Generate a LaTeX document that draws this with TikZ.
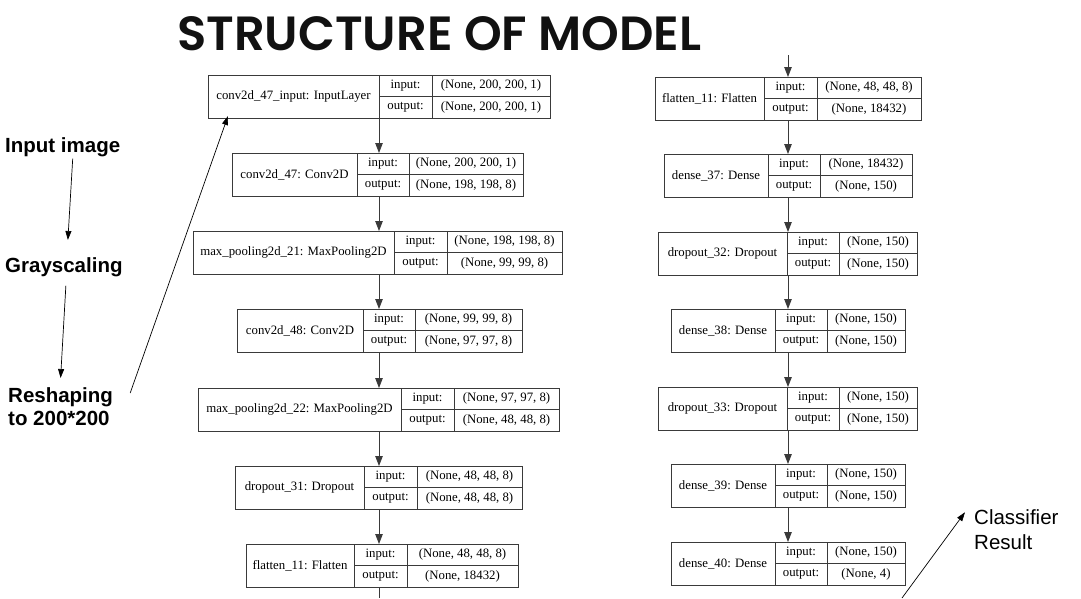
\documentclass[tikz,border=0pt]{standalone}
\usepackage{fontspec}
\setmainfont{Liberation Serif}
\newfontfamily\arialfont{Liberation Sans}
\newfontfamily\titlefont{Poppins SemiBold}
\usetikzlibrary{arrows.meta}
\definecolor{boxline}{HTML}{3A3A3A}
\definecolor{titleink}{HTML}{111111}

% one keras layer: id, x0, x1, x2, x3, top, name, input shape, output shape
\newcommand{\layerbox}[9]{%
  \node[cell, minimum width=#3-#2, minimum height=43, anchor=north west] (#1) at (#2,#6) {#7};
  \node[cell, minimum width=#4-#3, anchor=north west] (#1-il) at (#3,#6) {input:};
  \node[cell, minimum width=#4-#3, anchor=north west] (#1-ol) at (#3,#6+21.5) {output:};
  \node[cell, minimum width=#5-#4, anchor=north west] (#1-iv) at (#4,#6) {#8};
  \node[cell, minimum width=#5-#4, anchor=north west] (#1-ov) at (#4,#6+21.5) {#9};
}

\begin{document}
\begin{tikzpicture}[x=1pt,y=-1pt,
  cell/.style={draw=boxline, line width=0.9pt, inner sep=0pt, outer sep=0pt,
    minimum height=21.5, font=\fontsize{12.8}{14}\selectfont},
  flow/.style={-{Triangle[length=10pt,width=7.5pt]}, draw=boxline, line width=0.9pt},
  ann/.style={-{Triangle[length=9pt,width=6pt]}, line width=0.7pt},
  side/.style={inner sep=0pt, align=left, font=\arialfont\bfseries\fontsize{20.5}{23}\selectfont},
  note/.style={inner sep=0pt, align=left, font=\arialfont\fontsize{20.5}{25}\selectfont}]
\useasboundingbox (0,0) rectangle (1081,598);

% title
\node[inner sep=0pt, anchor=base west, text=titleink,
  font=\titlefont\fontsize{48}{50}\selectfont] (title) at (177,50) {STRUCTURE OF MODEL};

% left column
\layerbox{b1}{208}{379}{432}{550}{75}{conv2d\_47\_input: InputLayer}{(None, 200, 200, 1)}{(None, 200, 200, 1)}
\layerbox{b2}{232}{357}{409}{523}{153}{conv2d\_47: Conv2D}{(None, 200, 200, 1)}{(None, 198, 198, 8)}
\layerbox{b3}{193}{394}{447}{562}{231}{max\_pooling2d\_21: MaxPooling2D}{(None, 198, 198, 8)}{(None, 99, 99, 8)}
\layerbox{b4}{237}{363}{415}{522}{309}{conv2d\_48: Conv2D}{(None, 99, 99, 8)}{(None, 97, 97, 8)}
\layerbox{b5}{198}{401}{454}{559}{388}{max\_pooling2d\_22: MaxPooling2D}{(None, 97, 97, 8)}{(None, 48, 48, 8)}
\layerbox{b6}{235}{364}{417}{522}{466}{dropout\_31: Dropout}{(None, 48, 48, 8)}{(None, 48, 48, 8)}
\layerbox{b7}{246}{354}{407}{518}{544}{flatten\_11: Flatten}{(None, 48, 48, 8)}{(None, 18432)}

% right column
\layerbox{r1}{655}{764}{817}{921}{77}{flatten\_11: Flatten}{(None, 48, 48, 8)}{(None, 18432)}
\layerbox{r2}{664}{768}{820}{912}{154}{dense\_37: Dense}{(None, 18432)}{(None, 150)}
\layerbox{r3}{658}{787}{839}{917}{232}{dropout\_32: Dropout}{(None, 150)}{(None, 150)}
\layerbox{r4}{671}{775}{827}{905}{309}{dense\_38: Dense}{(None, 150)}{(None, 150)}
\layerbox{r5}{658}{787}{839}{917}{387}{dropout\_33: Dropout}{(None, 150)}{(None, 150)}
\layerbox{r6}{671}{775}{827}{905}{464}{dense\_39: Dense}{(None, 150)}{(None, 150)}
\layerbox{r7}{671}{775}{827}{905}{542}{dense\_40: Dense}{(None, 150)}{(None, 4)}

% flow lines
\coordinate (lx) at (379,0);
\coordinate (lbot) at (379,598);
\coordinate (rtop) at (788,55);
\foreach \a/\b in {b1/b2,b2/b3,b3/b4,b4/b5,b5/b6,b6/b7}
  \draw[flow] (\a.south -| lx) -- (\b.north -| lx);
\draw[draw=boxline, line width=0.9pt] (b7.south -| lbot) -- (lbot);
\draw[flow] (rtop) -- (r1.north -| rtop);
\foreach \a/\b in {r1/r2,r2/r3,r3/r4,r4/r5,r5/r6,r6/r7}
  \draw[flow] (\a.south -| rtop) -- (\b.north -| rtop);

% preprocessing notes
\node[side, anchor=base west] (inimg) at (5,152) {Input image};
\node[side, anchor=base west] (gray) at (5,272) {Grayscaling};
\node[side, anchor=north west] (reshape) at (8,387) {Reshaping\\to 200*200};
\draw[ann] ([shift={(10,2)}]inimg.south) -- ([shift={(4,-17)}]gray.north);
\draw[ann] ([shift={(2,9)}]gray.south) -- ([shift={(0,-9)}]reshape.north);
\draw[ann] ([shift={(17,6)}]reshape.north east) -- ([shift={(20,-2)}]b1.south west);

% result note
\node[note, anchor=north west] (result) at (974,509) {Classifier\\Result};
\coordinate (resbot) at (902,598);
\draw[ann] (resbot) -- ([shift={(-9,-17)}]result.west);
\end{tikzpicture}
\end{document}
